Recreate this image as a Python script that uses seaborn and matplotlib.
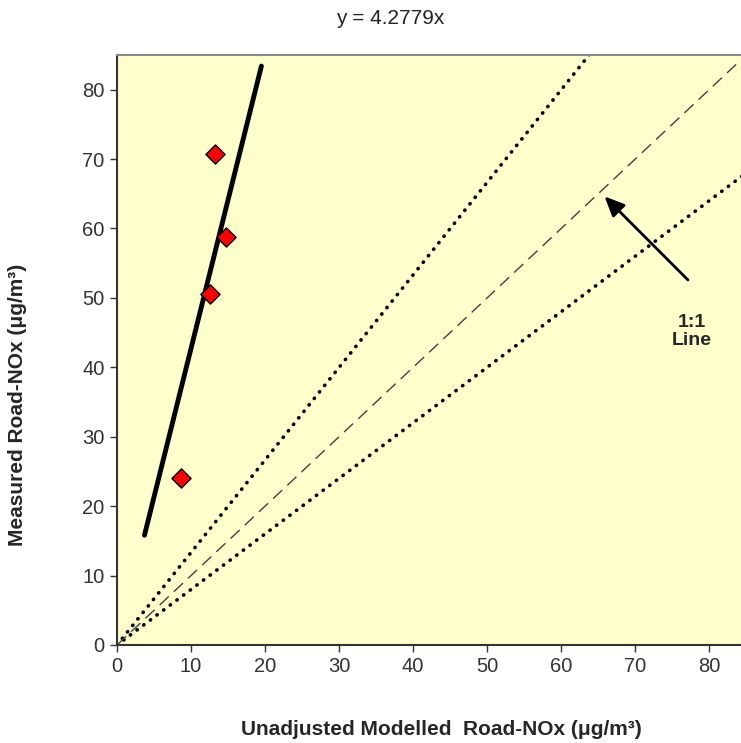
import matplotlib
matplotlib.use("Agg")
import matplotlib.pyplot as plt
import seaborn as sns
import pandas as pd

# measured vs unadjusted modelled road-NOx
modelled = [13.2, 14.7, 12.5, 8.7]
measured = [70.8, 58.8, 50.6, 24.1]

# fitted line y = 4.2779x (endpoints as drawn)
fit_x = [3.7, 19.5]
fit_y = [15.8, 83.4]

# 1:1 line and the two dotted bounds
ref_x = [0, 85]
one_to_one_y = [0, 85]
upper_y = [0, 113.3]
lower_y = [0, 68.0]

sns.set_theme(style="white")
plt.rcParams['font.family'] = ['Liberation Sans', 'DejaVu Sans']


def plot_chart():
    fig = plt.figure(figsize=(7.41, 7.43), dpi=100)
    ax = fig.add_axes([0.158, 0.132, 0.842, 0.794])
    ax.set_facecolor("#FFFFCC")

    sns.lineplot(x=ref_x, y=upper_y, ax=ax, color="black", lw=2.6,
                 linestyle=(0, (0.1, 2.2)), dash_capstyle="round")
    sns.lineplot(x=ref_x, y=lower_y, ax=ax, color="black", lw=2.6,
                 linestyle=(0, (0.1, 2.2)), dash_capstyle="round")
    sns.lineplot(x=ref_x, y=one_to_one_y, ax=ax, color="#404040", lw=1.0,
                 linestyle=(0, (9, 5)))
    sns.lineplot(x=fit_x, y=fit_y, ax=ax, color="black", lw=3.5,
                 solid_capstyle="round")

    pts = pd.DataFrame({"modelled": modelled, "measured": measured})
    sns.scatterplot(data=pts, x="modelled", y="measured", ax=ax, marker="D",
                    s=95, color="red", edgecolor="black", linewidth=1.0,
                    zorder=5)

    ax.annotate("", xy=(65.6, 64.9), xytext=(77.4, 52.3),
                arrowprops=dict(arrowstyle="-|>,head_length=1.0,head_width=0.45",
                                color="black", lw=2))
    ax.text(77.6, 45.2, "1:1\nLine", fontsize=14, fontweight="bold",
            ha="center", va="center", linespacing=1.05)

    ax.set_xlim(0, 84.3)
    ax.set_ylim(0, 85)
    ax.set_xticks(range(0, 81, 10))
    ax.set_yticks(range(0, 81, 10))
    ax.tick_params(axis="both", direction="out", length=5, width=1,
                   color="#333333", labelsize=14.5, labelcolor="#333333",
                   left=True, bottom=True, pad=4)

    for side in ["left", "bottom"]:
        ax.spines[side].set_color("#333333")
        ax.spines[side].set_linewidth(1.5)
    ax.spines["top"].set_color("#888888")
    ax.spines["top"].set_linewidth(1.5)
    ax.spines["right"].set_visible(False)

    ax.set_xlabel("Unadjusted Modelled  Road-NOx (\u03bcg/m\u00b3)",
                  fontsize=15, fontweight="bold")
    ax.set_ylabel("Measured Road-NOx (\u03bcg/m\u00b3)",
                  fontsize=15, fontweight="bold")
    ax.xaxis.set_label_coords(0.519, -0.144)
    ax.xaxis.label.set_va("center")
    ax.yaxis.set_label_coords(-0.159, 0.407)
    ax.yaxis.label.set_va("center")

    fig.text(0.527, 0.975, "y = 4.2779x", ha="center", va="center",
             fontsize=15, color="#222222")

    fig.savefig("out.png", dpi=100)
    plt.close(fig)


if __name__ == "__main__":
    plot_chart()
